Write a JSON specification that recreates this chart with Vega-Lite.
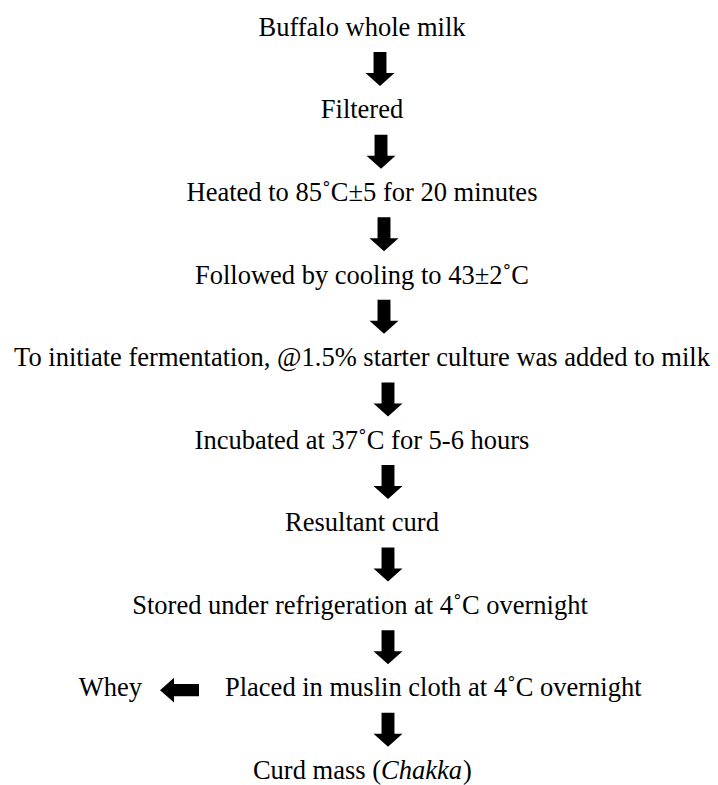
{
  "$schema": "https://vega.github.io/schema/vega-lite/v6.json",
  "width": 718,
  "height": 785,
  "autosize": {"type": "fit", "contains": "padding"},
  "padding": 0,
  "background": "white",
  "config": {"view": {"stroke": null}, "text": {"font": "Liberation Serif"}},
  "datasets": {
    "steps": [
      {"label": "Buffalo whole milk", "step": 1, "pos": 362, "anchor": "center", "italic": "normal"},
      {"label": "Filtered", "step": 2, "pos": 362, "anchor": "center", "italic": "normal"},
      {"label": "Heated to 85˚C±5 for 20 minutes", "step": 3, "pos": 362, "anchor": "center", "italic": "normal"},
      {"label": "Followed by cooling to 43±2˚C", "step": 4, "pos": 362, "anchor": "center", "italic": "normal"},
      {"label": "To initiate fermentation, @1.5% starter culture was added to milk", "step": 5, "pos": 362, "anchor": "center", "italic": "normal"},
      {"label": "Incubated at 37˚C for 5-6 hours", "step": 6, "pos": 362, "anchor": "center", "italic": "normal"},
      {"label": "Resultant curd", "step": 7, "pos": 362, "anchor": "center", "italic": "normal"},
      {"label": "Stored under refrigeration at 4˚C overnight", "step": 8, "pos": 360, "anchor": "center", "italic": "normal"},
      {"label": "Placed in muslin cloth at 4˚C overnight", "step": 9, "pos": 225, "anchor": "left", "italic": "normal"},
      {"label": "Whey", "step": 9, "pos": 142, "anchor": "right", "italic": "normal"},
      {"label": "Curd mass (", "step": 10, "pos": 381, "anchor": "right", "italic": "normal"},
      {"label": "Chakka", "step": 10, "pos": 381, "anchor": "left", "italic": "italic"},
      {"label": ")", "step": 10, "pos": 463, "anchor": "left", "italic": "normal"}
    ],
    "down": [
      {"step": 1.5, "pos": 380},
      {"step": 2.5, "pos": 381},
      {"step": 3.5, "pos": 384},
      {"step": 4.5, "pos": 384},
      {"step": 5.5, "pos": 388},
      {"step": 6.5, "pos": 388},
      {"step": 7.5, "pos": 388},
      {"step": 8.5, "pos": 388},
      {"step": 9.5, "pos": 388}
    ],
    "side": [
      {"step": 9.02, "pos": 179.5}
    ]
  },
  "encoding": {
    "x": {"field": "pos", "type": "quantitative", "scale": {"domain": [0, 718], "nice": false, "zero": false}, "axis": null},
    "y": {"field": "step", "type": "quantitative", "scale": {"domain": [0.6635, 10.096], "nice": false, "zero": false, "reverse": true}, "axis": null}
  },
  "layer": [
    {
      "data": {"name": "steps"},
      "transform": [{"filter": "datum.anchor == 'center'"}],
      "mark": {"type": "text", "align": "center", "baseline": "middle", "fontSize": 26.5, "color": "black"},
      "encoding": {"text": {"field": "label"}}
    },
    {
      "data": {"name": "steps"},
      "transform": [{"filter": "datum.anchor == 'left' && datum.italic == 'normal'"}],
      "mark": {"type": "text", "align": "left", "baseline": "middle", "fontSize": 26.5, "color": "black"},
      "encoding": {"text": {"field": "label"}}
    },
    {
      "data": {"name": "steps"},
      "transform": [{"filter": "datum.anchor == 'left' && datum.italic == 'italic'"}],
      "mark": {"type": "text", "align": "left", "baseline": "middle", "fontSize": 26.5, "fontStyle": "italic", "color": "black"},
      "encoding": {"text": {"field": "label"}}
    },
    {
      "data": {"name": "steps"},
      "transform": [{"filter": "datum.anchor == 'right'"}],
      "mark": {"type": "text", "align": "right", "baseline": "middle", "fontSize": 26.5, "color": "black"},
      "encoding": {"text": {"field": "label"}}
    },
    {
      "data": {"name": "down"},
      "mark": {"type": "point", "filled": true, "color": "black", "opacity": 1, "strokeWidth": 0, "size": 1156,
        "shape": "M-0.38,-1L0.38,-1L0.38,0.235L0.853,0.235L0,1L-0.853,0.235L-0.38,0.235Z"}
    },
    {
      "data": {"name": "side"},
      "mark": {"type": "point", "filled": true, "color": "black", "opacity": 1, "strokeWidth": 0, "size": 1521,
        "shape": "M-1,0L-0.28,-0.64L-0.28,-0.31L1,-0.31L1,0.31L-0.28,0.31L-0.28,0.64Z"}
    }
  ]
}
